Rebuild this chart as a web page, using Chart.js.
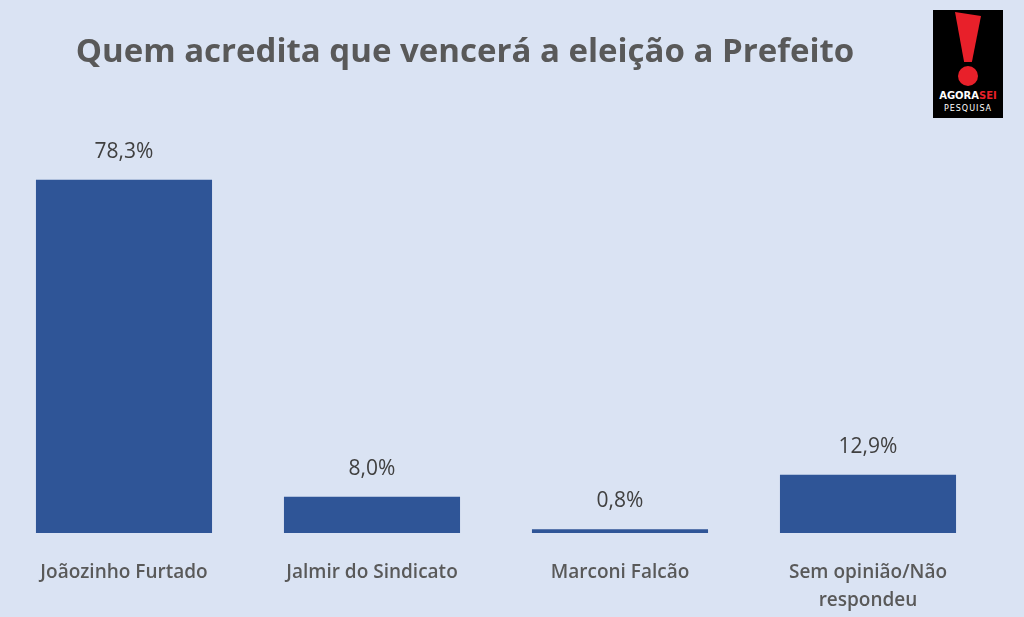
<!DOCTYPE html>
<html>
<head>
<meta charset="utf-8">
<script src="https://cdn.jsdelivr.net/npm/chart.js@4"></script>
<style>
  body { margin: 0; background: #dae3f3; overflow: hidden; }
  #wrap { position: relative; width: 1024px; height: 617px; overflow: hidden; }
  #title { position: absolute; left: 0; width: 930px; top: 27px; text-align: center;
    font: bold 33px "Open Sans", sans-serif; color: #595959; }
  #logo { position: absolute; left: 933px; top: 10px; width: 70px; height: 108px; background: #000; }
  #logo .bang { position: absolute; left: 22px; top: 2px; width: 26px; height: 50px;
    background: #e8202a; clip-path: polygon(0 0, 100% 8%, 65% 100%, 35% 100%); }
  #logo .dot { position: absolute; left: 25px; top: 56px; width: 20px; height: 20px; border-radius: 50%; background: #e8202a; }
  #logo .t1 { position: absolute; top: 80px; width: 100%; text-align: center; font: bold 10px "DejaVu Sans", sans-serif; color: #fff; }
  #logo .t1 span { color: #e8202a; }
  #logo .t2 { position: absolute; top: 94px; width: 100%; text-align: center; font: 8px "DejaVu Sans", sans-serif; color: #fff; letter-spacing: 1px; }
</style>
</head>
<body>
<div id="wrap">
  <canvas id="chart" width="1024" height="632"></canvas>
  <div id="title">Quem acredita que vencerá a eleição a Prefeito</div>
  <div id="logo"><div class="bang"></div><div class="dot"></div>
    <div class="t1">AGORA<span>SEI</span></div><div class="t2">PESQUISA</div></div>
</div>
<script>
// DATA
const categories = ['Joãozinho Furtado', 'Jalmir do Sindicato', 'Marconi Falcão', ['Sem opinião/Não', 'respondeu']];
const values = [78.3, 8.0, 0.8, 12.9];
const valueLabels = ['78,3%', '8,0%', '0,8%', '12,9%'];

// value labels above the bars
const barLabels = {
  id: 'barLabels',
  afterDatasetsDraw(chart) {
    const ctx = chart.ctx;
    ctx.save();
    ctx.font = '21px "Open Sans", sans-serif';
    ctx.fillStyle = '#404040';
    ctx.textAlign = 'center';
    ctx.textBaseline = 'middle';
    chart.getDatasetMeta(0).data.forEach((bar, i) => {
      ctx.fillText(valueLabels[i], bar.x, bar.y - 28);
    });
    ctx.restore();
  }
};

new Chart(document.getElementById('chart'), {
  type: 'bar',
  data: {
    labels: categories,
    datasets: [{
      data: values,
      backgroundColor: '#2f5597',
      categoryPercentage: 0.71,
      barPercentage: 1
    }]
  },
  options: {
    responsive: false,
    animation: false,
    layout: { padding: { top: 100, left: 0, right: 32, bottom: 0 } },
    plugins: { legend: { display: false }, tooltip: { enabled: false } },
    scales: {
      y: { display: false, min: 0, max: 96 },
      x: {
        grid: { display: false },
        border: { display: false },
        ticks: { color: '#595959', padding: 18, maxRotation: 0,
          font: { family: '"Open Sans", sans-serif', size: 19, weight: '600', lineHeight: 1.45 } }
      }
    }
  },
  plugins: [barLabels]
});
</script>
</body>
</html>
